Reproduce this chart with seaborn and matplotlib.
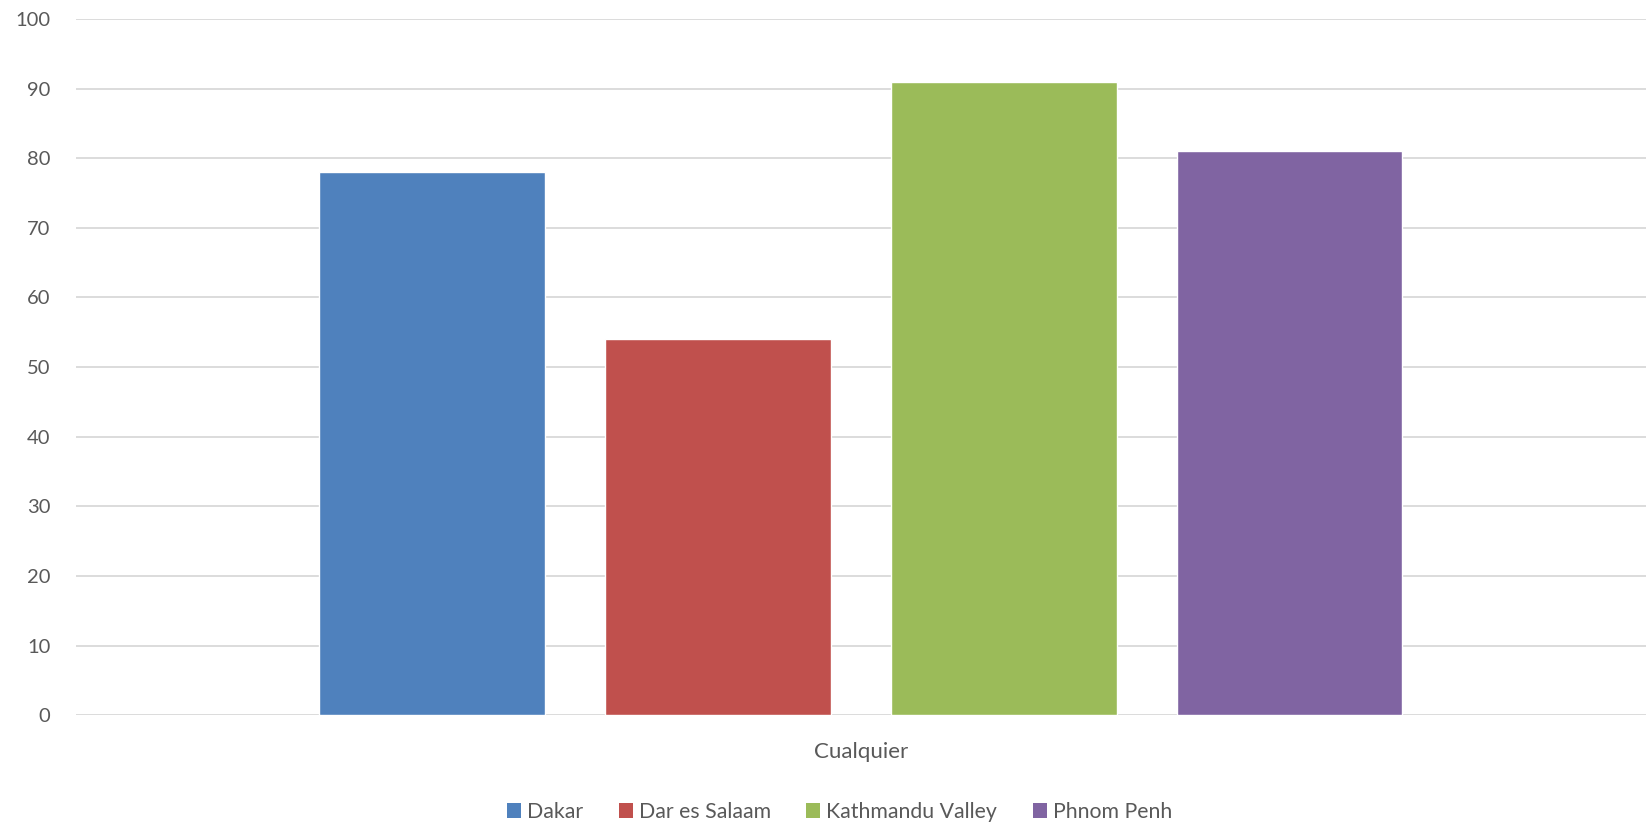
import matplotlib
matplotlib.use("Agg")
import matplotlib.pyplot as plt
import seaborn as sns
import pandas as pd
from matplotlib.patches import Patch

categories = ["Cualquier"]
cities = ["Dakar", "Dar es Salaam", "Kathmandu Valley", "Phnom Penh"]
values = [78, 54, 91, 81]
colors = ["#4F81BD", "#C0504D", "#9BBB59", "#8064A2"]
yticks = [0, 10, 20, 30, 40, 50, 60, 70, 80, 90, 100]

df = pd.DataFrame({"cat": categories * len(cities), "city": cities, "value": values})

sns.set_theme(style="white")
plt.rcParams["font.family"] = ["Lato", "DejaVu Sans"]

fig = plt.figure(figsize=(16.46, 8.23), dpi=100)
ax = fig.add_axes([0.0459, 0.131, 0.9541, 0.846])

sns.barplot(data=df, x="cat", y="value", hue="city", hue_order=cities,
            palette=colors, width=0.728, gap=0.21, saturation=1,
            legend=False, ax=ax, zorder=3)

ax.set_xlim(-0.5, 0.5)
ax.set_ylim(0, 100)
ax.set_yticks(yticks)
ax.set_yticklabels([str(v) for v in yticks])
ax.yaxis.grid(True, color="#d9d9d9", linewidth=1.3, zorder=0)
ax.set_axisbelow(True)
for s in ax.spines.values():
    s.set_visible(False)
ax.tick_params(axis="y", length=0, pad=18, labelsize=14.5, labelcolor="#595959")
ax.tick_params(axis="x", length=0, pad=19, labelsize=16, labelcolor="#595959")
ax.set_xlabel("")
ax.set_ylabel("")

handles = [Patch(facecolor=c, edgecolor="none") for c in colors]
fig.legend(handles, cities, loc="center", bbox_to_anchor=(0.51, 0.0134), ncol=4,
           frameon=False, handlelength=0.66, handleheight=0.66, handletextpad=0.28,
           columnspacing=1.68, fontsize=15.3, labelcolor="#595959",
           borderpad=0)

fig.savefig("out.png", dpi=100)
